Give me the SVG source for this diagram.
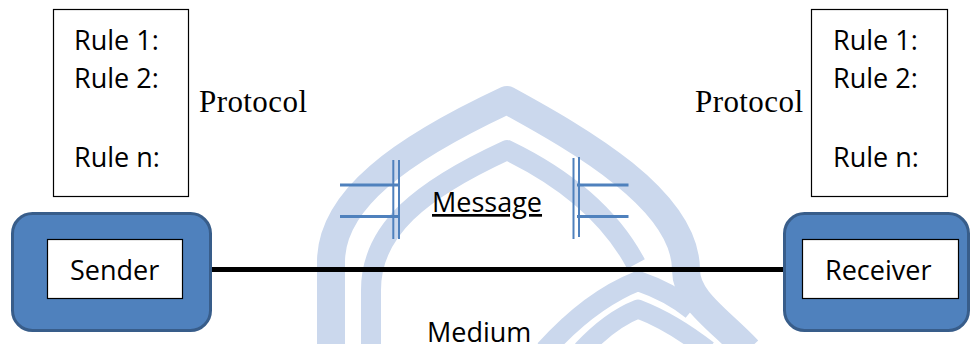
<svg xmlns="http://www.w3.org/2000/svg" width="970" height="344" viewBox="0 0 970 344">
  <style>
    .wm { fill: none; stroke: #CBD8ED; stroke-linejoin: round; }
    .rulebox { fill: #FFFFFF; stroke: #000000; stroke-width: 1.2; }
    .sans { font-family: "Open Sans", "Liberation Sans", sans-serif; font-size: 27px; fill: #000000; }
    .rule { font-family: "Open Sans", "Liberation Sans", sans-serif; font-size: 27px; fill: #000000; }
    .serif { font-family: "Liberation Serif", "Times New Roman", serif; font-size: 31px; fill: #000000; }
    .station { fill: #4F81BD; stroke: #385D8A; stroke-width: 3; }
    .label { fill: #FFFFFF; stroke: #000000; stroke-width: 1.2; }
    .tickv { stroke: #4F81BD; stroke-width: 2; fill: none; }
    .tickh { stroke: #4F81BD; stroke-width: 3.2; fill: none; }
    .medium { stroke: #000000; stroke-width: 5; fill: none; }
  </style>

  <!-- watermark -->
  <g id="watermark">
    <path class="wm" stroke-width="28" d="M 331 350 L 331 262 C 331 200 400 150 507 100 C 580 140 686 200 686 270 C 686 300 720 320 748 350"/>
    <path class="wm" stroke-width="20" d="M 371 350 L 371 290 C 371 230 420 190 507 150 C 565 178 610 215 636 264"/>
    <path class="wm" stroke-width="20" d="M 545 350 Q 590 300 638 281 Q 670 292 692 310"/>
    <path class="wm" stroke-width="19" d="M 582 350 Q 610 320 638 309 Q 672 322 708 350"/>
  </g>

  <!-- protocol rule boxes -->
  <g id="rules-sender">
    <rect class="rulebox" x="53.5" y="9.5" width="135" height="187"/>
    <text class="rule" x="74" y="50">Rule 1:</text>
    <text class="rule" x="74" y="88">Rule 2:</text>
    <text class="rule" x="74" y="167">Rule n:</text>
  </g>
  <g id="rules-receiver">
    <rect class="rulebox" x="811.5" y="9.5" width="136" height="187"/>
    <text class="rule" x="833" y="50">Rule 1:</text>
    <text class="rule" x="833" y="88">Rule 2:</text>
    <text class="rule" x="833" y="167">Rule n:</text>
  </g>

  <g id="protocol-labels">
    <text class="serif" x="199" y="112" textLength="108">Protocol</text>
    <text class="serif" x="695" y="112" textLength="108">Protocol</text>
  </g>

  <!-- connectors -->
  <g id="connectors">
    <line id="medium-line" class="medium" x1="212" y1="269.5" x2="784" y2="269.5"/>
    <g id="message-left">
      <line class="tickv" x1="393.3" y1="160" x2="393.3" y2="239"/>
      <line class="tickv" x1="399" y1="160" x2="399" y2="239"/>
      <line class="tickh" x1="340" y1="185" x2="399" y2="185"/>
      <line class="tickh" x1="340" y1="216.5" x2="399" y2="216.5"/>
    </g>
    <g id="message-right">
      <line class="tickv" x1="573.5" y1="158" x2="573.5" y2="239"/>
      <line class="tickv" x1="579" y1="157" x2="579" y2="237"/>
      <line class="tickh" x1="577" y1="185" x2="628.5" y2="185"/>
      <line class="tickh" x1="577" y1="216.5" x2="628.5" y2="216.5"/>
    </g>
    <text class="sans" x="432" y="212" text-decoration="underline">Message</text>
    <text class="sans" x="427" y="342">Medium</text>
  </g>

  <!-- stations -->
  <g id="sender">
    <rect class="station" x="12.5" y="213.5" width="198" height="117" rx="20" ry="20"/>
    <rect class="label" x="47.5" y="239.5" width="135" height="59"/>
    <text class="sans" x="70" y="280">Sender</text>
  </g>
  <g id="receiver">
    <rect class="station" x="784.5" y="213.5" width="184" height="117" rx="20" ry="20"/>
    <rect class="label" x="802.5" y="239.5" width="156" height="59"/>
    <text class="sans" x="825" y="280">Receiver</text>
  </g>
</svg>
